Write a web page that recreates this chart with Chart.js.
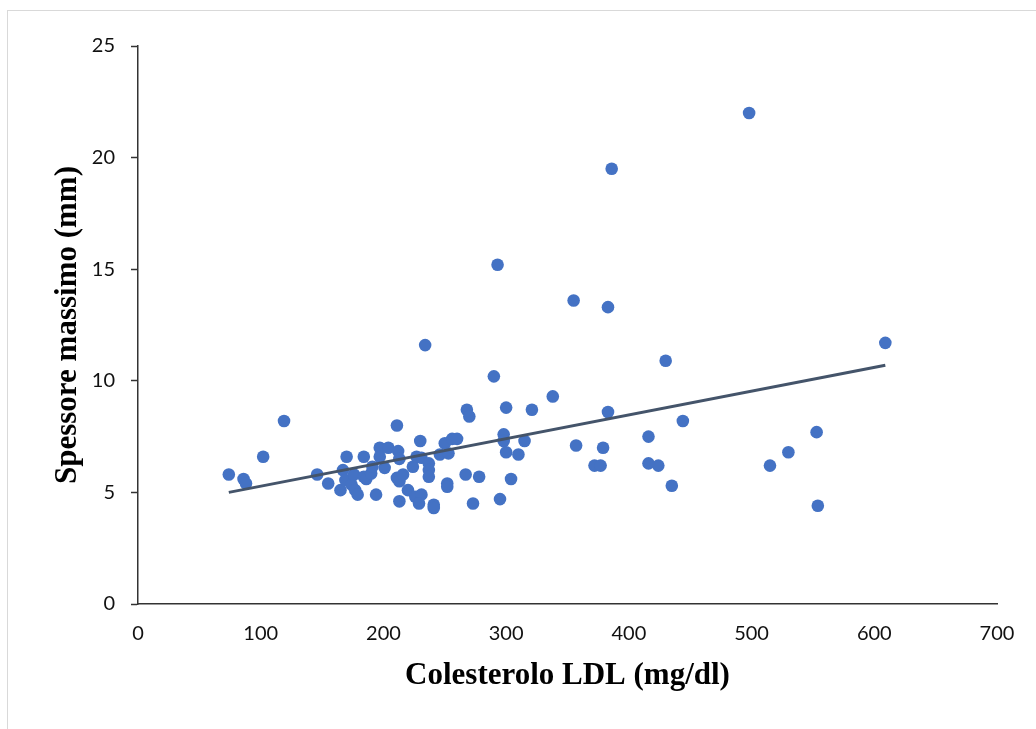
<!DOCTYPE html>
<html lang="it">
<head>
<meta charset="UTF-8">
<title>Spessore massimo vs Colesterolo LDL</title>
<script src="https://cdn.jsdelivr.net/npm/chart.js@4.4.0/dist/chart.umd.min.js"></script>
<style>
    body { margin: 0; background: #ffffff; overflow: hidden; }
    .frame {
        position: absolute;
        left: 7px;
        top: 10px;
        width: 1100px;
        height: 800px;
        border: 1.5px solid #d9d9d9;
    }
    .chart-box {
        position: absolute;
        left: 0;
        top: 0;
        width: 1036px;
        height: 729px;
    }
</style>
</head>
<body>
<div class="frame"></div>
<div class="chart-box"><canvas id="scatterChart" width="1036" height="729"></canvas></div>
<script>
// Colesterolo LDL (mg/dl) for each patient
const ldlValues = [
    74, 86, 88, 102, 119, 146, 155, 165, 167, 169,
    170, 174, 176, 177, 179, 184, 184, 186, 190, 191,
    194, 197, 197, 201, 204, 211, 212, 213, 211, 213,
    216, 213, 220, 224, 227, 231, 230, 226, 231, 229,
    234, 237, 237, 237, 241, 241, 246, 250, 253, 252,
    252, 256, 260, 267, 268, 270, 273, 278, 290, 293,
    295, 298, 298, 300, 300, 304, 310, 315, 321, 338,
    355, 357, 372, 377, 379, 383, 383, 386, 416, 416,
    424, 430, 435, 444, 498, 515, 530, 553, 554, 609
];

// Spessore massimo (mm), same order as ldlValues
const thicknessValues = [
    5.8, 5.6, 5.4, 6.6, 8.2, 5.8, 5.4, 5.1, 6.0, 5.55,
    6.6, 5.35, 5.8, 5.1, 4.9, 6.6, 5.7, 5.6, 5.85, 6.15,
    4.9, 7.0, 6.6, 6.1, 7.0, 8.0, 6.85, 6.5, 5.65, 5.5,
    5.8, 4.6, 5.1, 6.15, 6.6, 6.55, 7.3, 4.8, 4.9, 4.5,
    11.6, 6.3, 6.0, 5.7, 4.45, 4.3, 6.7, 7.2, 6.75, 5.4,
    5.25, 7.4, 7.4, 5.8, 8.7, 8.4, 4.5, 5.7, 10.2, 15.2,
    4.7, 7.6, 7.3, 8.8, 6.8, 5.6, 6.7, 7.3, 8.7, 9.3,
    13.6, 7.1, 6.2, 6.2, 7.0, 13.3, 8.6, 19.5, 7.5, 6.3,
    6.2, 10.9, 5.3, 8.2, 22.0, 6.2, 6.8, 7.7, 4.4, 11.7
];

// Linear trend line end points
const trendX = [74, 609];
const trendY = [5.0, 10.7];

// Axis ranges and steps
const xRange = [0, 700];
const xStep = 100;
const yRange = [0, 25];
const yStep = 5;

const xTitle = 'Colesterolo LDL (mg/dl)';
const yTitle = 'Spessore massimo (mm)';

// Build {x, y} points from two parallel arrays
function toPoints(xs, ys) {
    return xs.map((x, i) => ({ x: x, y: ys[i] }));
}

function initializeScatterChart() {
    const ctx = document.getElementById('scatterChart').getContext('2d');

    const tickFont = { family: 'Lato', size: 20 };
    const titleFont = { family: '"Liberation Serif", "Times New Roman", serif', size: 31, weight: 'bold' };

    const data = {
        datasets: [
            {
                type: 'line',
                label: 'Lineare',
                data: toPoints(trendX, trendY),
                borderColor: '#44546A',
                borderWidth: 3,
                pointRadius: 0,
                fill: false
            },
            {
                type: 'scatter',
                label: 'Spessore',
                data: toPoints(ldlValues, thicknessValues),
                backgroundColor: '#4472C4',
                borderWidth: 0,
                pointRadius: 6.3
            }
        ]
    };

    const config = {
        type: 'scatter',
        data: data,
        options: {
            responsive: false,
            animation: false,
            layout: {
                padding: { left: 0, top: 46, right: 39, bottom: 0 }
            },
            plugins: {
                legend: { display: false },
                tooltip: { enabled: false }
            },
            scales: {
                x: {
                    type: 'linear',
                    min: xRange[0],
                    max: xRange[1],
                    afterFit: (scale) => { scale.height = 125; },
                    ticks: {
                        stepSize: xStep,
                        color: '#111',
                        font: tickFont,
                        padding: 18,
                        maxRotation: 0
                    },
                    grid: { display: false, drawTicks: false },
                    border: { display: true, color: '#333', width: 1.5 },
                    title: {
                        display: true,
                        text: xTitle,
                        color: '#000',
                        font: titleFont,
                        padding: { top: 0, bottom: 34 }
                    }
                },
                y: {
                    type: 'linear',
                    min: yRange[0],
                    max: yRange[1],
                    afterFit: (scale) => { scale.width = 138; },
                    ticks: {
                        stepSize: yStep,
                        color: '#111',
                        font: tickFont,
                        padding: 16
                    },
                    grid: {
                        display: true,
                        drawOnChartArea: false,
                        drawTicks: true,
                        tickLength: 7,
                        tickWidth: 1.5,
                        tickColor: '#333'
                    },
                    border: { display: true, color: '#333', width: 1.5 },
                    title: {
                        display: true,
                        text: yTitle,
                        color: '#000',
                        font: titleFont,
                        padding: { top: 49, bottom: 0 }
                    }
                }
            }
        }
    };

    new Chart(ctx, config);
}

document.addEventListener('DOMContentLoaded', initializeScatterChart);
</script>
</body>
</html>
